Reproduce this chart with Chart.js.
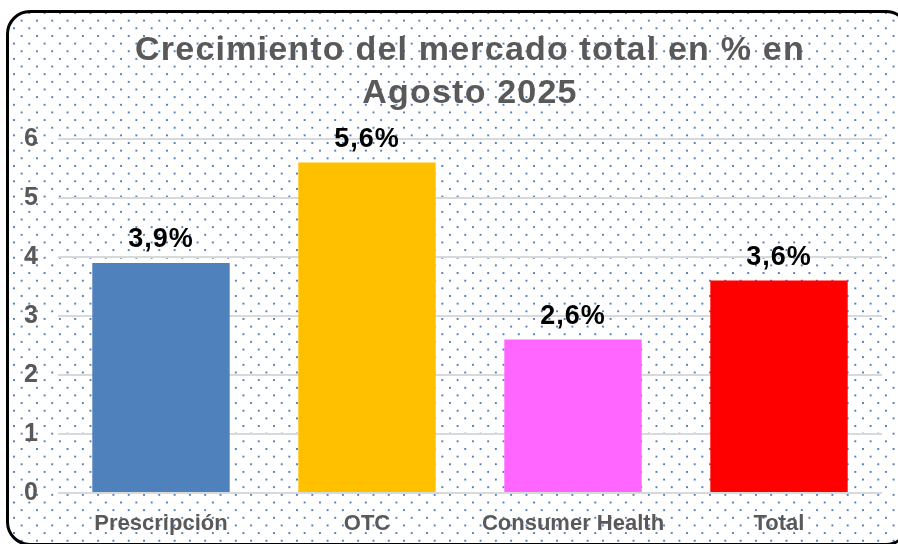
<!DOCTYPE html>
<html>
<head>
<meta charset="utf-8">
<script src="https://cdn.jsdelivr.net/npm/chart.js@4"></script>
<style>
  html, body { margin: 0; padding: 0; background: #fff; overflow: hidden; }
  #wrap { position: relative; width: 898px; height: 544px; overflow: hidden; }
  /* marco redondeado con fondo de puntos */
  #frame {
    position: absolute; left: 6px; top: 10px; width: 904px; height: 536px;
    box-sizing: border-box; border: 3px solid #000; border-radius: 24px;
    background-color: #fff;
    background-image:
      radial-gradient(circle, #4f7fbf 0.9px, transparent 1.4px),
      radial-gradient(circle, #4f7fbf 0.9px, transparent 1.4px);
    background-size: 15.3px 15.3px;
    background-position: 5px 0px, 12.65px 7.65px;
  }
  canvas { position: absolute; left: 0; top: 0; }
</style>
</head>
<body>
<div id="wrap">
  <div id="frame"></div>
  <canvas id="chart" width="898" height="544"></canvas>
</div>
<script>
// Datos del gráfico
const categorias = ['Prescripción', 'OTC', 'Consumer Health', 'Total'];
const crecimiento = [3.9, 5.6, 2.6, 3.6];
const colores = ['#4f81bd', '#ffc000', '#ff66ff', '#ff0000'];
const titulo = ['Crecimiento del mercado total en % en', 'Agosto 2025'];
const ejeY = { min: 0, max: 6, paso: 1 };

Chart.defaults.font.family = '"Liberation Sans", Arial, sans-serif';

// Título centrado sobre el área del gráfico
const tituloPlugin = {
  id: 'tituloPlugin',
  afterDraw(chart) {
    const ctx = chart.ctx;
    const cx = (chart.chartArea.left + chart.chartArea.right) / 2;
    ctx.save();
    ctx.fillStyle = '#595959';
    ctx.font = 'bold 34px "Liberation Sans", Arial, sans-serif';
    ctx.letterSpacing = '1.2px';
    ctx.textAlign = 'center';
    ctx.textBaseline = 'alphabetic';
    ctx.fillText(titulo[0], cx, 60);
    ctx.fillText(titulo[1], cx, 103);
    ctx.restore();
  }
};

// Etiquetas de valor encima de cada barra
const etiquetasPlugin = {
  id: 'etiquetasPlugin',
  afterDatasetsDraw(chart) {
    const ctx = chart.ctx;
    const meta = chart.getDatasetMeta(0);
    ctx.save();
    ctx.fillStyle = '#000';
    ctx.font = 'bold 27px "Liberation Sans", Arial, sans-serif';
    ctx.letterSpacing = '1px';
    ctx.textAlign = 'center';
    ctx.textBaseline = 'alphabetic';
    meta.data.forEach((bar, i) => {
      const texto = crecimiento[i].toFixed(1).replace('.', ',') + '%';
      ctx.fillText(texto, bar.x, bar.y - 16);
    });
    ctx.restore();
  }
};

new Chart(document.getElementById('chart'), {
  type: 'bar',
  data: {
    labels: categorias,
    datasets: [{
      data: crecimiento,
      backgroundColor: colores,
      borderWidth: 0,
      barPercentage: 0.667,
      categoryPercentage: 1
    }]
  },
  options: {
    responsive: false,
    animation: false,
    layout: { padding: { left: 0, right: 16, top: 139, bottom: 0 } },
    plugins: {
      legend: { display: false },
      title: { display: false },
      tooltip: { enabled: false }
    },
    scales: {
      x: {
        grid: { display: false, drawTicks: false },
        border: { display: false },
        ticks: {
          color: '#595959',
          font: { size: 22, weight: 'bold' },
          padding: 18,
          maxRotation: 0
        },
        afterFit(s) { s.height = 51; }
      },
      y: {
        min: ejeY.min,
        max: ejeY.max,
        grid: { color: '#d9d9d9', lineWidth: 2, drawTicks: false },
        border: { display: false },
        ticks: {
          stepSize: ejeY.paso,
          color: '#595959',
          font: { size: 25, weight: 'bold' },
          padding: 20
        },
        afterFit(s) { s.width = 58; }
      }
    }
  },
  plugins: [tituloPlugin, etiquetasPlugin]
});
</script>
</body>
</html>
